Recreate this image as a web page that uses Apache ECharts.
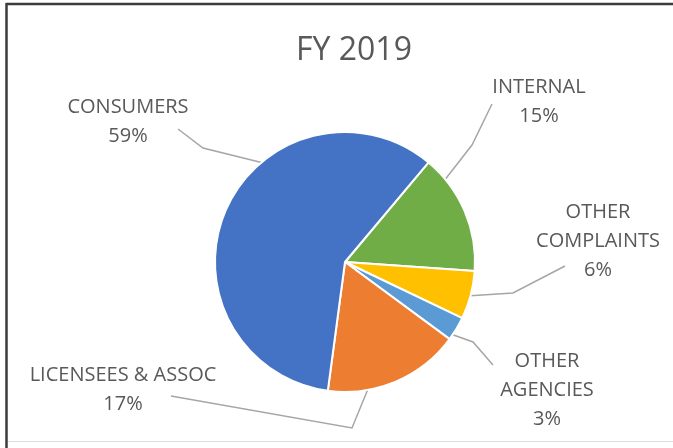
<!DOCTYPE html>
<html>
<head>
<meta charset="utf-8">
<style>
  html, body { margin: 0; padding: 0; background: #ffffff; }
  #chart { width: 673px; height: 448px; }
</style>
<script src="https://cdn.jsdelivr.net/npm/echarts@6/dist/echarts.min.js"></script>
</head>
<body>
<div id="chart"></div>
<script>
// Complaint sources, FY 2019 (clockwise from the green slice)
const categories = ['INTERNAL', 'OTHER\nCOMPLAINTS', 'OTHER\nAGENCIES', 'LICENSEES & ASSOC', 'CONSUMERS'];
const shares = [15, 6, 3, 17, 59];
const sliceColors = ['#70AD47', '#FFC000', '#5B9BD5', '#ED7D31', '#4472C4'];

// Pie geometry
const CX = 345, CY = 262, R = 130;

// Callout placement for each label: text centre, leader start angle on the rim
// (degrees clockwise from 12 o'clock), and the bend point of the leader.
const callouts = [
  { x: 539, y: 102, rim: 50.5, bend: [472, 145], tip: [492, 104] },
  { x: 598, y: 241, rim: 105,  bend: [513, 293], tip: [565, 266] },
  { x: 547, y: 390, rim: 124,  bend: [473, 342], tip: [493, 365] },
  { x: 123, y: 390, rim: 170,  bend: [352, 428], tip: [171, 396] },
  { x: 128, y: 122, rim: 320,  bend: [203, 148], tip: [178, 129] }
];

function rimPoint(deg) {
  const a = deg * Math.PI / 180;
  return [CX + R * Math.sin(a), CY - R * Math.cos(a)];
}

const chart = echarts.init(document.getElementById('chart'));

chart.setOption({
  backgroundColor: '#ffffff',
  animation: false,
  title: {
    text: 'FY 2019',
    left: 349,
    top: 30,
    textAlign: 'center',
    textStyle: {
      fontFamily: 'Open Sans',
      fontSize: 32,
      fontWeight: 'normal',
      color: '#595959'
    }
  },
  graphic: [
    { type: 'line', shape: { x1: 6.5, y1: 3, x2: 6.5, y2: 448 }, style: { stroke: '#3c3c3c', lineWidth: 2.5 } },
    { type: 'line', shape: { x1: 6, y1: 4, x2: 673, y2: 4 }, style: { stroke: '#3c3c3c', lineWidth: 2.5 } },
    { type: 'line', shape: { x1: 8, y1: 441.5, x2: 673, y2: 441.5 }, style: { stroke: '#dcdcdc', lineWidth: 1 } }
  ],
  series: [{
    type: 'pie',
    center: [CX, CY],
    radius: R,
    startAngle: 50,
    clockwise: true,
    avoidLabelOverlap: false,
    itemStyle: { borderColor: '#ffffff', borderWidth: 2 },
    label: {
      show: true,
      formatter: '{b}\n{c}%',
      fontFamily: 'Open Sans',
      fontSize: 20,
      lineHeight: 29,
      color: '#595959',
      align: 'center'
    },
    labelLine: {
      show: true,
      lineStyle: { color: '#a6a6a6', width: 1.5 }
    },
    labelLayout: function (params) {
      const c = callouts[params.dataIndex];
      return {
        x: c.x,
        y: c.y,
        align: 'center',
        verticalAlign: 'middle',
        labelLinePoints: [rimPoint(c.rim), c.bend, c.tip]
      };
    },
    data: categories.map(function (name, i) {
      return { name: name, value: shares[i], itemStyle: { color: sliceColors[i] } };
    })
  }]
});
</script>
</body>
</html>
